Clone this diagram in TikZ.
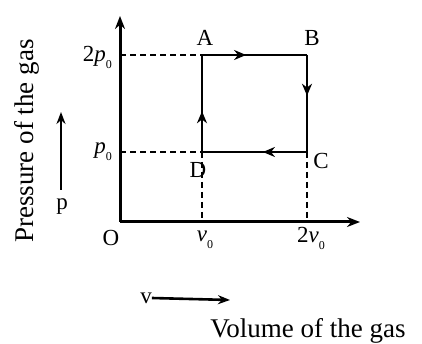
\documentclass[tikz,border=0pt]{standalone}
\usepackage{fontspec}
\setmainfont{Liberation Serif}
\usetikzlibrary{arrows.meta,decorations.markings}
\newcommand\lowsub[1]{\raisebox{-0.3em}{\fontsize{12}{12}\selectfont #1}}
\begin{document}
\begin{tikzpicture}[x=1pt,y=-1pt,
  axis/.style={line width=3pt,-{Stealth[length=13pt,width=10pt]}},
  path/.style={line width=2.2pt,postaction={decorate},
    decoration={markings,mark=at position #1 with {\arrow{Stealth[length=12pt,width=10pt]}}}},
  guide/.style={line width=1.6pt,dash pattern=on 6pt off 4pt},
  lbl/.style={font=\fontsize{23}{23}\selectfont,inner sep=0pt},
  big/.style={font=\fontsize{27}{27}\selectfont,inner sep=0pt}]
\useasboundingbox (0,0) rectangle (422,344);
\coordinate (O) at (120,222);
\coordinate (Ytop) at (120,16);
\coordinate (Xend) at (360,222);
\coordinate (A) at (202,55);
\coordinate (B) at (307,55);
\coordinate (C) at (307,152);
\coordinate (D) at (202,152);
\coordinate (Y2) at (120,55);
\coordinate (Y1) at (120,152);
\coordinate (Xv) at (202,222);
\coordinate (X2v) at (307,222);
% guides
\draw[guide] (Y2) -- (A);
\draw[guide] (Y1) -- (D);
\draw[guide] (D) -- (Xv);
\draw[guide] (C) -- (X2v);
% axes
\draw[axis] (O) -- (Ytop);
\draw[axis] (O) -- (Xend);
% cycle
\draw[path=0.42] (A) -- (B);
\draw[path=0.42] (B) -- (C);
\draw[path=0.42] (C) -- (D);
\draw[path=0.42] (D) -- (A);
% labels
\node[lbl] (lA) at (205,38) {A};
\node[lbl] (lB) at (312,38) {B};
\node[lbl] (lC) at (321,161) {C};
\node[lbl] (lD) at (198,170) {D};
\node[lbl] (lO) at (111,238) {O};
\node[lbl,anchor=east] (l2p) at (112,57) {2\textit{p}\lowsub{0}};
\node[lbl,anchor=east] (lp) at (112,152) {\textit{p}\lowsub{0}};
\node[lbl] (lv) at (205,240) {\textit{v}\lowsub{0}};
\node[lbl] (l2v) at (311,238) {2\textit{v}\lowsub{0}};
\node[big,rotate=90] (ylab) at (27,141) {Pressure of the gas};
\node[big,anchor=base] (xlab) at (308,337) {Volume of the gas};
% small direction arrows
\node[lbl] (pl) at (62,207) {p};
\coordinate (pt) at (61,112);
\coordinate (pb) at (61,190);
\draw[line width=2.4pt,-{Stealth[length=12pt,width=9pt]}] (pb) -- (pt);
\node[lbl] (vl) at (146,298) {v};
\coordinate (vt) at (230,300);
\draw[line width=2.6pt,-{Stealth[length=12pt,width=9pt]}] (vl.east) -- (vt);
\end{tikzpicture}
\end{document}
